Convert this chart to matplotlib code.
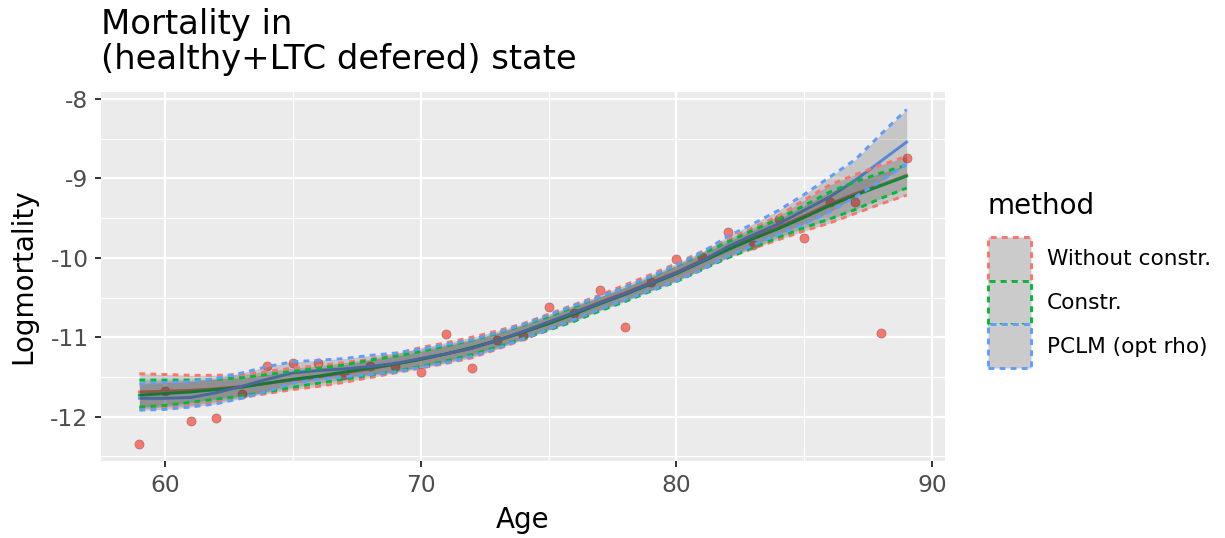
import numpy as np
import matplotlib.pyplot as plt
from matplotlib.patches import Patch

plt.rcParams['axes.unicode_minus'] = False
plt.rcParams['font.family'] = 'DejaVu Sans'

# observed log-mortality
ages = np.arange(59, 90)
obs = [-12.35, -11.68, -12.05, -12.02, -11.72, -11.36, -11.32, -11.32, -11.47, -11.36,
       -11.36, -11.44, -10.96, -11.39, -11.03, -10.99, -10.62, -10.70, -10.40, -10.87,
       -10.30, -10.02, -9.99, -9.67, -9.84, -9.51, -9.75, -9.30, -9.30, -10.95, -8.74]

# Without constr.
wc_fit = [-11.69, -11.68, -11.67, -11.65, -11.62, -11.58, -11.54, -11.50, -11.45, -11.40,
          -11.34, -11.27, -11.21, -11.14, -11.04, -10.93, -10.81, -10.69, -10.56, -10.44,
          -10.31, -10.18, -10.03, -9.88, -9.74, -9.61, -9.47, -9.32, -9.19, -9.08, -8.96]
wc_lo = [-11.90, -11.88, -11.86, -11.81, -11.76, -11.71, -11.66, -11.62, -11.57, -11.51,
         -11.45, -11.39, -11.33, -11.26, -11.15, -11.03, -10.91, -10.79, -10.66, -10.54,
         -10.41, -10.28, -10.14, -10.00, -9.88, -9.77, -9.66, -9.56, -9.44, -9.32, -9.21]
wc_hi = [-11.46, -11.47, -11.48, -11.48, -11.47, -11.43, -11.39, -11.36, -11.32, -11.28,
         -11.21, -11.13, -11.07, -11.00, -10.92, -10.83, -10.71, -10.59, -10.47, -10.34,
         -10.21, -10.07, -9.92, -9.77, -9.62, -9.47, -9.27, -9.08, -8.95, -8.83, -8.72]

# Constr.
c_fit = [-11.73, -11.71, -11.69, -11.66, -11.63, -11.58, -11.53, -11.49, -11.44, -11.39,
         -11.34, -11.28, -11.21, -11.13, -11.04, -10.94, -10.83, -10.71, -10.58, -10.46,
         -10.33, -10.20, -10.05, -9.90, -9.76, -9.63, -9.49, -9.34, -9.21, -9.09, -8.97]
c_lo = [-11.88, -11.86, -11.82, -11.78, -11.74, -11.69, -11.63, -11.58, -11.53, -11.48,
        -11.43, -11.37, -11.30, -11.22, -11.12, -11.02, -10.91, -10.80, -10.67, -10.55,
        -10.42, -10.30, -10.15, -10.00, -9.87, -9.74, -9.62, -9.51, -9.39, -9.25, -9.12]
c_hi = [-11.54, -11.54, -11.54, -11.53, -11.51, -11.47, -11.43, -11.39, -11.35, -11.29,
        -11.24, -11.18, -11.11, -11.04, -10.95, -10.85, -10.74, -10.62, -10.49, -10.37,
        -10.24, -10.10, -9.95, -9.80, -9.65, -9.51, -9.34, -9.17, -9.04, -8.93, -8.83]

# PCLM (opt rho)
p_fit = [-11.77, -11.77, -11.76, -11.70, -11.62, -11.53, -11.45, -11.42, -11.40, -11.37,
         -11.33, -11.27, -11.21, -11.14, -11.04, -10.93, -10.81, -10.69, -10.57, -10.45,
         -10.32, -10.19, -10.04, -9.86, -9.71, -9.57, -9.40, -9.23, -9.02, -8.78, -8.54]
p_lo = [-11.92, -11.91, -11.88, -11.84, -11.77, -11.68, -11.58, -11.53, -11.50, -11.47,
        -11.44, -11.38, -11.32, -11.24, -11.14, -11.02, -10.90, -10.78, -10.65, -10.53,
        -10.41, -10.29, -10.15, -9.98, -9.84, -9.70, -9.57, -9.42, -9.23, -9.03, -8.82]
p_hi = [-11.59, -11.57, -11.56, -11.52, -11.45, -11.37, -11.31, -11.29, -11.27, -11.23,
        -11.20, -11.15, -11.09, -11.03, -10.94, -10.84, -10.72, -10.60, -10.49, -10.37,
        -10.23, -10.09, -9.93, -9.73, -9.57, -9.40, -9.20, -8.98, -8.76, -8.44, -8.13]

methods = ['Without constr.', 'Constr.', 'PCLM (opt rho)']
colors = ['#F8766D', '#00BA38', '#619CFF']
fits = [wc_fit, c_fit, p_fit]
lows = [wc_lo, c_lo, p_lo]
highs = [wc_hi, c_hi, p_hi]

fig = plt.figure(figsize=(12.25, 5.38), dpi=100)
ax = fig.add_axes([101 / 1225, 1 - 461 / 538, 844 / 1225, 369 / 538])
ax.set_facecolor('#EBEBEB')

ax.scatter(ages, obs, s=42, color='#F8766D', edgecolor='#A0706A', linewidth=0.5, zorder=2)

dash = (0, (2, 1.8))
for fit, col in zip(fits, colors):
    ax.plot(ages, fit, color=col, lw=2.1, zorder=3)
for lo, hi, col in zip(lows, highs, colors):
    ax.fill_between(ages, lo, hi, color='#333333', alpha=0.2, lw=0, zorder=4)
    ax.plot(ages, lo, color=col, lw=2.1, ls=dash, zorder=5)
    ax.plot(ages, hi, color=col, lw=2.1, ls=dash, zorder=5)

ax.set_xlim(57.5, 90.5)
ax.set_ylim(-12.56, -7.91)
ax.set_xticks([60, 70, 80, 90])
ax.set_yticks([-8, -9, -10, -11, -12])
ax.set_xticks([65, 75, 85], minor=True)
ax.set_yticks([-8.5, -9.5, -10.5, -11.5, -12.5], minor=True)
ax.grid(which='major', color='white', lw=1.6)
ax.grid(which='minor', color='white', lw=0.8)
ax.set_axisbelow(True)
for s in ax.spines.values():
    s.set_visible(False)
ax.tick_params(which='major', length=4.5, width=1.4, color='#333333',
               labelsize=16.8, labelcolor='#4D4D4D', pad=4.5)
ax.tick_params(which='minor', length=0)

ax.set_xlabel('Age', fontsize=20, labelpad=7)
ax.set_ylabel('Logmortality', fontsize=20, labelpad=9)
fig.text(101 / 1225, 1 - 8 / 538, 'Mortality in\n(healthy+LTC defered) state',
         fontsize=24.4, ha='left', va='top', linespacing=1.08)

handles = [Patch(facecolor='#CBCBCB', edgecolor=c, linestyle=(0, (2, 1.8)), lw=2.1)
           for c in colors]
leg = fig.legend(handles, methods, loc='upper left', bbox_to_anchor=(988 / 1225, 1 - 192 / 538),
                 frameon=False, title='method', title_fontsize=20, fontsize=15.6,
                 handlelength=1.98, handleheight=2.74, labelspacing=0.0, handletextpad=0.74,
                 borderaxespad=0, borderpad=0)
leg._legend_box.align = 'left'
leg._legend_box.sep = 12

fig.savefig('out.png', dpi=100)
